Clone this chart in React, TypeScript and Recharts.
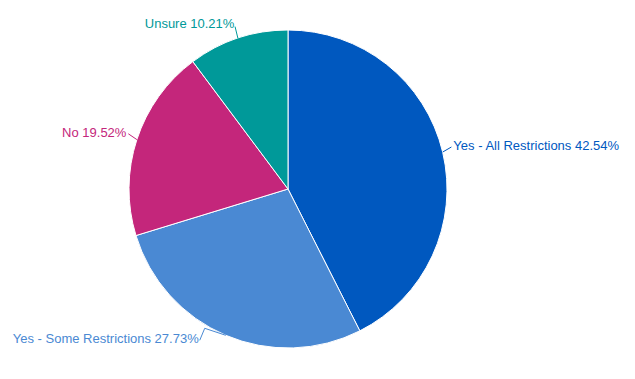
import { PieChart, Pie, Cell } from "recharts";

const categories = [
  "Yes - All Restrictions",
  "Yes - Some Restrictions",
  "No",
  "Unsure",
];

const shares = [42.54, 27.73, 19.52, 10.21];

const colors = ["#0058bf", "#4a89d3", "#c4267b", "#009999"];

const data = categories.map((name, i) => ({
  name,
  value: shares[i],
}));

const RAD = Math.PI / 180;

function renderLabel(props: any) {
  const { cx, cy, midAngle, outerRadius, index } = props;
  const cos = Math.cos(-midAngle * RAD);
  const sin = Math.sin(-midAngle * RAD);
  const sx = cx + outerRadius * cos;
  const sy = cy + outerRadius * sin;
  const right = cos >= 0;
  let points = "";
  let tx = 0;
  let ty = 0;
  if (index === 1) {
    // connector bends to clear the pie edge
    const mx = sx - 21;
    const my = sy - 7;
    tx = mx - 5;
    ty = my + 12;
    points = `${sx},${sy} ${mx},${my} ${tx},${ty}`;
    tx = tx - 1;
    ty = ty - 2;
  } else {
    const ex = cx + (outerRadius + 9) * cos;
    const ey = cy + (outerRadius + 9) * sin;
    tx = cx + (outerRadius + 11) * cos;
    ty = cy + (outerRadius + 11) * sin - 4;
    points = `${sx},${sy} ${ex},${ey - 3}`;
  }
  return (
    <g>
      <polyline
        points={points}
        fill="none"
        stroke={colors[index]}
        strokeWidth={1}
      />
      <text
        x={tx}
        y={ty}
        fill={colors[index]}
        fontSize={13}
        fontFamily="Liberation Sans, Arial, sans-serif"
        textAnchor={right ? "start" : "end"}
        dominantBaseline="central"
      >
        {`${props.name} ${shares[index].toFixed(2)}%`}
      </text>
    </g>
  );
}

export default function App() {
  return (
    <div
      style={{
        position: "absolute",
        left: 0,
        top: 0,
        width: 635,
        height: 379,
        background: "#ffffff",
      }}
    >
      <PieChart
        width={635}
        height={379}
        margin={{ top: 0, right: 0, bottom: 0, left: 0 }}
      >
        <Pie
          data={data}
          dataKey="value"
          nameKey="name"
          cx={288}
          cy={189}
          outerRadius={159}
          startAngle={90}
          endAngle={-270}
          stroke="#ffffff"
          strokeWidth={1}
          label={renderLabel}
          labelLine={false}
          isAnimationActive={false}
        >
          {data.map((_, index) => (
            <Cell key={index} fill={colors[index]} />
          ))}
        </Pie>
      </PieChart>
    </div>
  );
}
